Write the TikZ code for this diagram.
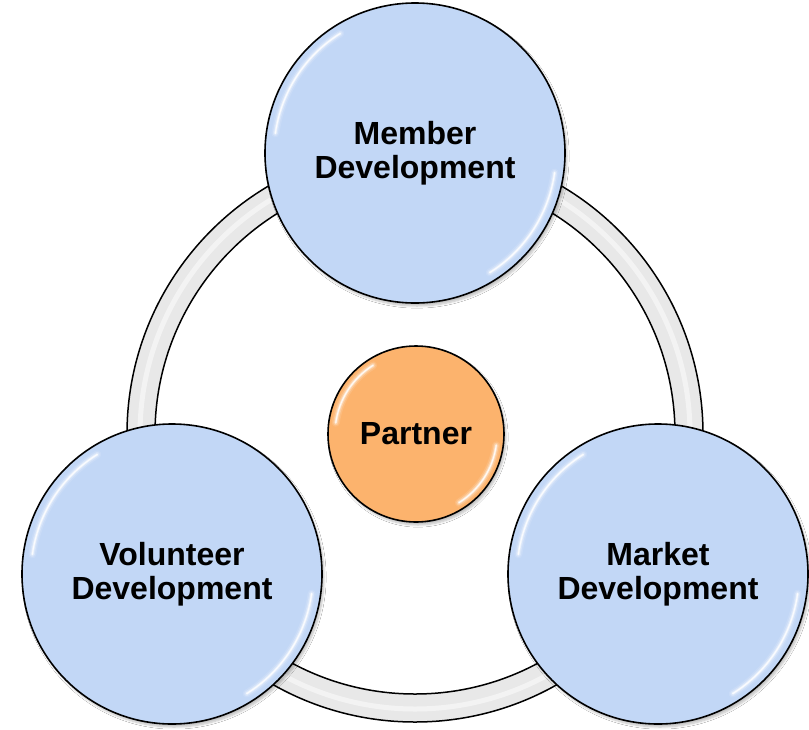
\documentclass[tikz,border=0pt]{standalone}
\usepackage{fontspec}
\setmainfont{Liberation Sans}
\usetikzlibrary{shadows.blur}
\definecolor{bubbleblue}{HTML}{C2D7F6}
\definecolor{partnerorange}{HTML}{FCB36D}
\definecolor{ringgray}{HTML}{E8E8E8}
\tikzset{
  bubble/.style={circle, draw=black, line width=1.6pt, inner sep=0pt,
    minimum size=#1, align=center, font=\bfseries\fontsize{32}{33.5}\selectfont,
    blur shadow={shadow xshift=2pt, shadow yshift=-3pt, shadow blur steps=6, shadow opacity=25}},
  devbubble/.style={bubble=300pt, fill=bubbleblue},
  hubbubble/.style={bubble=176pt, fill=partnerorange},
  shine/.style={white, line cap=round}
}
% soft white highlight arcs inside a bubble of radius #2 centred at #1
% (radii in pt, so the angles are ordinary page angles)
\newcommand{\bubbleshine}[2]{%
  \foreach \w/\o in {8/0.12,5/0.25,2.5/0.5,1/0.85}{
    \draw[shine, line width=\w pt, opacity=\o]
      ([shift={(122:#2)}]#1) arc[start angle=122, end angle=172, radius=#2];
    \draw[shine, line width=\w pt, opacity=\o]
      ([shift={(-58:#2)}]#1) arc[start angle=-58, end angle=-8, radius=#2];
  }}
\begin{document}
\begin{tikzpicture}[x=1pt,y=-1pt]
  \useasboundingbox (0,0) rectangle (809,729);
  \fill[white] (0,0) rectangle (809,729);

  % connecting ring
  \coordinate (hub) at (415,434);
  \fill[ringgray, even odd rule] (hub) circle[radius=288] (hub) circle[radius=260];
  \draw[white, opacity=0.5, line width=5pt] (hub) circle[radius=275];
  \draw[black, line width=1.5pt] (hub) circle[radius=288];
  \draw[black, line width=1.5pt] (hub) circle[radius=260];

  % bubbles
  \node[devbubble] (member) at (415,153) {Member\\Development};
  \node[devbubble] (volunteer) at (172,574) {Volunteer\\Development};
  \node[devbubble] (market) at (658,574) {Market\\Development};
  \node[hubbubble] (partner) at (416,434) {Partner};

  % glossy highlights
  \bubbleshine{member.center}{141pt}
  \bubbleshine{volunteer.center}{141pt}
  \bubbleshine{market.center}{141pt}
  \bubbleshine{partner.center}{81pt}
\end{tikzpicture}
\end{document}
